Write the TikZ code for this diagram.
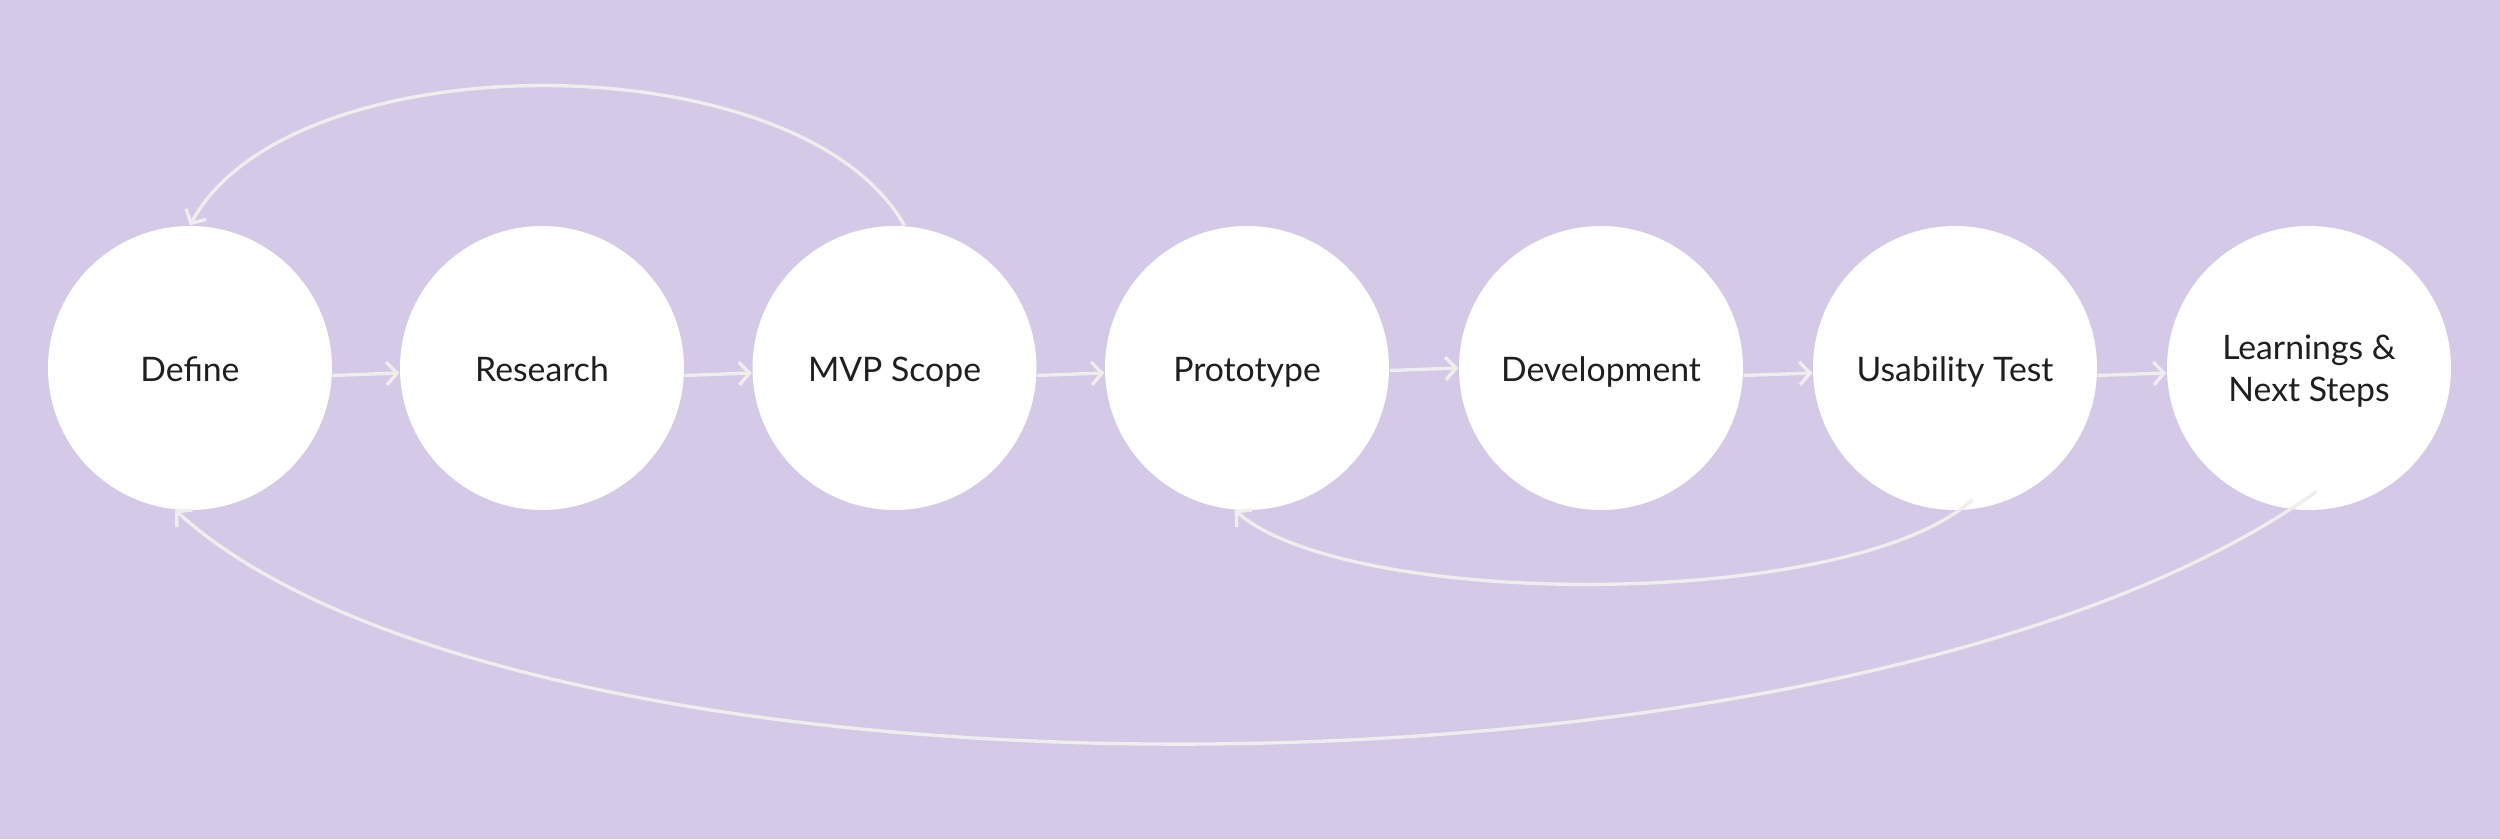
\documentclass[tikz,border=0pt]{standalone}
\usepackage{fontspec}
\setmainfont{Lato}
\usetikzlibrary{arrows.meta, positioning}
\definecolor{lavender}{HTML}{D4C9E7}
\definecolor{lightline}{HTML}{EFEEEC}
\definecolor{inkdark}{HTML}{1F1F22}

\begin{document}
\begin{tikzpicture}[
  >={Straight Barb[length=3pt, width=6.5pt]},
  stage/.style={
    circle, fill=white, draw=none, minimum size=2.84cm, inner sep=0pt,
    font=\fontsize{9.6}{11.8}\selectfont, text=inkdark, align=center,
    text height=1.75ex, text depth=0.2ex
  },
  flow/.style={->, line width=0.95pt, lightline},
]

% Background
\fill[lavender] (0,0) rectangle (25,8.39);

% =============================================
% Stages
% =============================================
\node[stage] (define)    at (1.90,4.71)  {Define};
\node[stage] (research)  at (5.42,4.71)  {Research};
\node[stage] (mvp)       at (8.945,4.71) {MVP Scope};
\node[stage] (proto)     at (12.47,4.71) {Prototype};
\node[stage] (dev)       at (16.01,4.71) {Development};
\node[stage] (usability) at (19.55,4.71) {Usability Test};
\node[stage, text height=, text depth=0pt] (learn) at (23.09,4.71)
  {Learnings \&\\Next Steps};

% =============================================
% Forward arrows
% =============================================
\foreach \a/\b in {define/research, research/mvp, mvp/proto,
                   dev/usability, usability/learn}
  \draw[flow] (\a.-3) -- (\b.182);
\draw[flow] (proto.-1) -- (dev.180);

% =============================================
% Loop-back arrows
% =============================================
% MVP Scope back to Define (top)
\draw[flow] (mvp.86) .. controls +(-1.04,1.86) and +(1.0,1.86) .. (define.north);

% Usability Test back to Prototype
\draw[flow] ([yshift=1mm]usability.-83)
  .. controls +(-1.22,-1.11) and +(1.15,-1.0) .. (proto.-95);

% Learnings back to Define
\draw[flow] ([yshift=1.9mm]learn.-87)
  .. controls +(-4.66,-3.33) and +(3.45,-3.15) .. (define.-96);

\end{tikzpicture}
\end{document}
